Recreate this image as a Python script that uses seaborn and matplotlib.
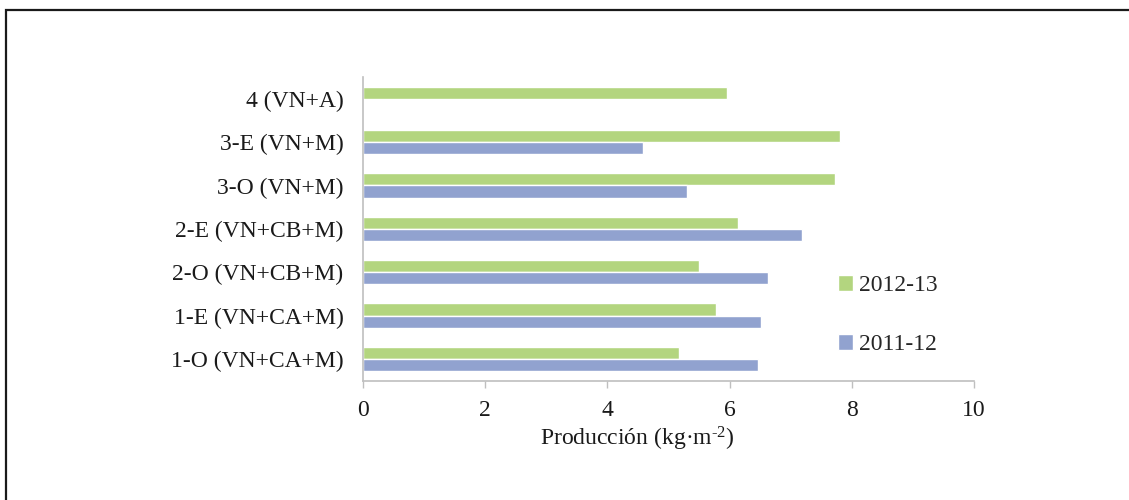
import numpy as np
import pandas as pd
import matplotlib
matplotlib.use("Agg")
import matplotlib.pyplot as plt
import matplotlib.patches as mpatches
import seaborn as sns

# Data
categories = ["4 (VN+A)", "3-E (VN+M)", "3-O (VN+M)", "2-E (VN+CB+M)",
              "2-O (VN+CB+M)", "1-E (VN+CA+M)", "1-O (VN+CA+M)"]
v2012_13 = [5.96, 7.81, 7.73, 6.14, 5.50, 5.78, 5.17]
v2011_12 = [np.nan, 4.59, 5.30, 7.18, 6.63, 6.51, 6.46]
series = ["2012-13", "2011-12"]
xticks = [0, 2, 4, 6, 8, 10]
xlabel = r"Producción (kg·m$^{\text{-2}}$)"

df = pd.DataFrame({
    "cat": categories * 2,
    "val": v2012_13 + v2011_12,
    "serie": [series[0]] * len(categories) + [series[1]] * len(categories),
})

sns.set_theme(style="white")
plt.rcParams["font.family"] = ["Liberation Serif", "DejaVu Serif"]
plt.rcParams["mathtext.fontset"] = "custom"
plt.rcParams["mathtext.rm"] = "Liberation Serif"
plt.rcParams["mathtext.it"] = "Liberation Serif:italic"
plt.rcParams["mathtext.bf"] = "Liberation Serif:bold"
plt.rcParams["mathtext.default"] = "regular"

FS = 17
W, H = 1129, 500
fig = plt.figure(figsize=(W / 100, H / 100), dpi=100)
ax = fig.add_axes([363 / W, 1 - 380.7 / H, (974 - 363) / W, (380.7 - 77) / H])

palette = {"2012-13": "#B3D57F", "2011-12": "#91A2CF"}
sns.barplot(data=df, y="cat", x="val", hue="serie", order=categories,
            hue_order=series, palette=palette, orient="h", width=0.56,
            saturation=1, errorbar=None, ax=ax, legend=True)

ax.set_xlim(0, 10)
ax.set_xticks(xticks)
ax.set_xticklabels([str(t) for t in xticks])
ax.set_ylabel("")
ax.set_xlabel(xlabel, fontsize=FS, color="#1a1a1a")
ax.xaxis.set_label_coords(0.449, -0.146)

for s in ["top", "right"]:
    ax.spines[s].set_visible(False)
for s in ["left", "bottom"]:
    ax.spines[s].set_color("#BFBFBF")
    ax.spines[s].set_linewidth(1.2)

ax.tick_params(axis="x", direction="out", length=5, width=1, color="#BFBFBF",
               labelsize=FS, labelcolor="#1a1a1a", pad=9, bottom=True)
ax.tick_params(axis="y", length=0, labelsize=FS, labelcolor="#1a1a1a", pad=14)
ax.grid(False)

handles, labels = ax.get_legend_handles_labels()
ax.legend(handles, labels, loc="upper left", frameon=False,
          bbox_to_anchor=(838 / W, 1 - 275 / H), bbox_transform=fig.transFigure,
          fontsize=FS, handlelength=0.65, handleheight=0.65, handletextpad=0.22,
          labelspacing=1.6, borderpad=0, borderaxespad=0)

# Outer frame of the figure
frame = mpatches.Rectangle((6 / W, -0.05), 1.1, 1.05 - 10 / H, transform=fig.transFigure,
                           fill=False, edgecolor="#1a1a1a", linewidth=1.6, clip_on=False)
fig.patches.append(frame)

fig.savefig("out.png", dpi=100)
